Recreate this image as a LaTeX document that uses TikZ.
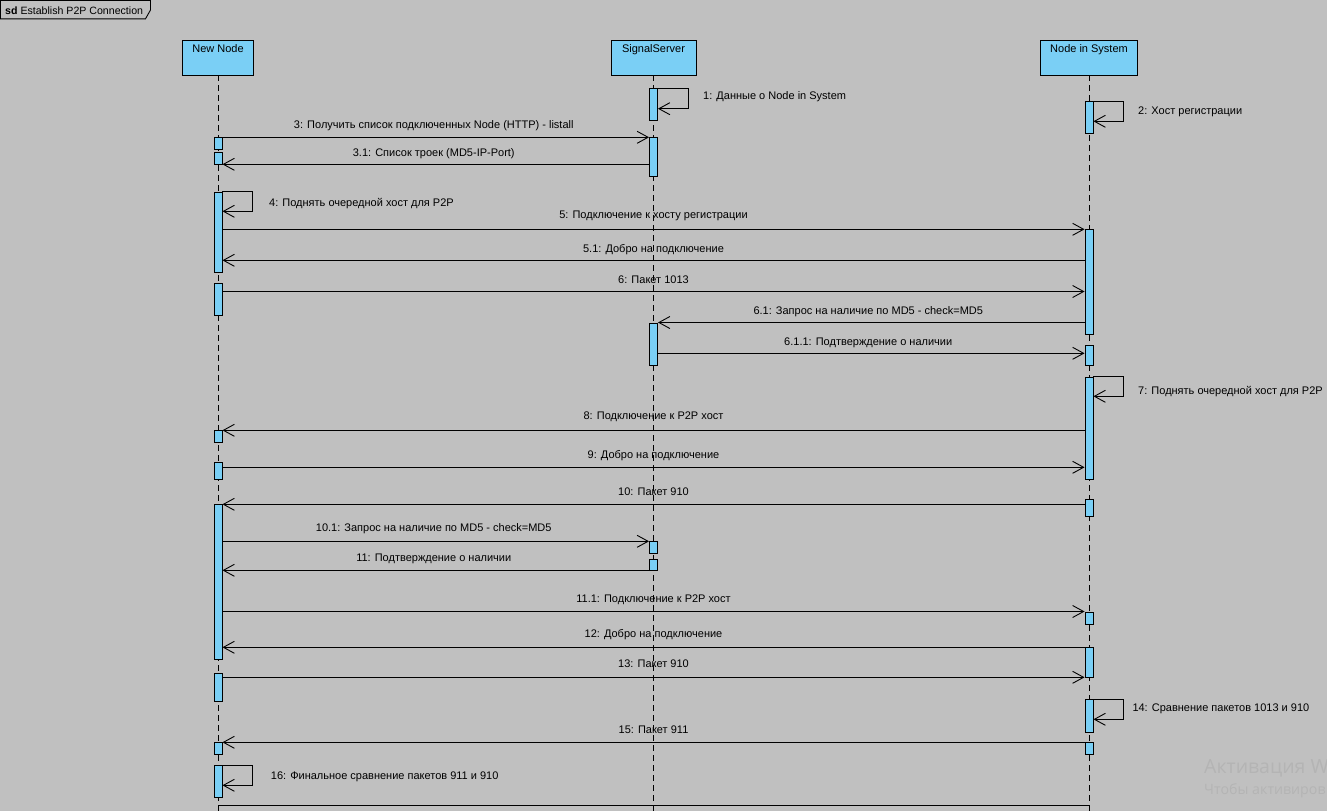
\documentclass[tikz,border=0pt]{standalone}
\usepackage{fontspec}
\setmainfont{Liberation Sans}
\newfontfamily\wmfont{Open Sans}
\usetikzlibrary{arrows.meta}
\definecolor{bgc}{RGB}{192,192,192}
\definecolor{actblue}{RGB}{122,207,245}
\definecolor{wmc}{RGB}{180,180,180}
\newcommand\lblfont{\fontsize{11}{13}\selectfont}
\newcommand\actbx[4]{\node[actbox, minimum height=#4pt] (#1) at (#2,#3) {};}
\tikzset{
  head/.style={draw=black, fill=actblue, line width=0.9pt, minimum height=35pt,
    inner xsep=0pt, inner ysep=0pt, text height=12pt, text depth=23pt, font=\lblfont},
  actbox/.style={draw=black, fill=actblue, line width=0.9pt, minimum width=8pt,
    inner sep=0pt, anchor=north},
  life/.style={draw=black, line width=0.9pt, dash pattern=on 6pt off 4pt},
  msg/.style={draw=black, line width=0.9pt,
    -{Straight Barb[length=11pt,width=12pt,line width=0.9pt]}},
  lbl/.style={font=\lblfont, inner sep=0pt, anchor=base},
  slbl/.style={font=\lblfont, inner sep=0pt, anchor=base west},
}
\begin{document}
\begin{tikzpicture}[x=1pt,y=-1pt]
\fill[bgc] (0,0) rectangle (1327,811);
\useasboundingbox (0,0) rectangle (1327,811);

% frame label
\draw[line width=0.9pt] (0.5,0.5) -- (150.5,0.5) -- (150.5,10) -- (145.5,18.8) -- (0.5,18.8) -- cycle;
\node[slbl, font=\fontsize{10.6}{12}\selectfont] (frametitle) at (5,14) {\textbf{sd} Establish P2P Connection};

% heads
\node[head, minimum width=71pt] (nn) at (218,57.5) {New Node};
\node[head, minimum width=85pt] (ss) at (653.5,57.5) {SignalServer};
\node[head, minimum width=97pt] (ns) at (1089,57.5) {Node in System};

\coordinate (bot) at (0,811);
\draw[life] (nn.south) -- (nn.south |- bot);
\draw[life] (ss.south) -- (ss.south |- bot);
\draw[life] (ns.south) -- (ns.south |- bot);

% activation boxes
\actbx{ss1}{653.5}{88.3}{32}
\actbx{ns2}{1089}{101.3}{32}
\actbx{nn3}{218}{137.3}{12}
\actbx{ss3}{653.5}{137.3}{39}
\actbx{nn31}{218}{152.3}{12}
\actbx{nn4}{218}{191.7}{80.6}
\actbx{ns5}{1089}{229.3}{104.7}
\actbx{nn6}{218}{283.3}{32}
\actbx{ss61}{653.5}{322.5}{42.8}
\actbx{ns611}{1089}{345.3}{20}
\actbx{ns7}{1089}{376.7}{102.6}
\actbx{nn8}{218}{430.2}{12.2}
\actbx{nn9}{218}{462.3}{17}
\actbx{ns10}{1089}{499.3}{16.7}
\actbx{nn10}{218}{504.3}{155}
\actbx{ss101}{653.5}{541.3}{12}
\actbx{ss11}{653.5}{559.3}{11}
\actbx{ns111}{1089}{611.5}{12}
\actbx{ns12}{1089}{647.3}{30}
\actbx{nn13}{218}{673.3}{28}
\actbx{ns14}{1089}{699.3}{32.4}
\actbx{ns15}{1089}{742.3}{12}
\actbx{nn15}{218}{742.3}{12}
\actbx{nn16}{218}{765.3}{32}

% y levels of messages
\coordinate (y3) at (0,137.3);
\coordinate (y31) at (0,164.3);
\coordinate (y5) at (0,229.3);
\coordinate (y51) at (0,260.3);
\coordinate (y6) at (0,291.5);
\coordinate (y61) at (0,322.5);
\coordinate (y611) at (0,353.3);
\coordinate (y8) at (0,430.3);
\coordinate (y9) at (0,467.3);
\coordinate (y10) at (0,504.3);
\coordinate (y101) at (0,541.3);
\coordinate (y11) at (0,570.3);
\coordinate (y111) at (0,611.5);
\coordinate (y12) at (0,647.3);
\coordinate (y13) at (0,677.3);
\coordinate (y15) at (0,742.3);
\coordinate (yend) at (0,805.3);

% self messages
\draw[msg] (ss1.north east) -- ++(30,0) -- ++(0,20.4) -- ++(-30,0);
\node[slbl] (l1) at (703,99.3) {1: Данные о Node in System};
\draw[msg] (ns2.north east) -- ++(30,0) -- ++(0,20) -- ++(-30,0);
\node[slbl] (l2) at (1138,114) {2: Хост регистрации};
\draw[msg] (nn4.north east) -- ++(30,0) -- ++(0,19.6) -- ++(-30,0);
\node[slbl] (l4) at (269,206.7) {4: Поднять очередной хост для P2P};
\draw[msg] (ns7.north east) -- ++(30,0) -- ++(0,19.6) -- ++(-30,0);
\node[slbl] (l7) at (1138,394.3) {7: Поднять очередной хост для P2P};
\draw[msg] (ns14.north east) -- ++(30,0) -- ++(0,20) -- ++(-30,0);
\node[slbl] (l14) at (1132.3,711.7) {14: Сравнение пакетов 1013 и 910};
\draw[msg] (nn16.north east) -- ++(30,0) -- ++(0,20) -- ++(-30,0);
\node[slbl] (l16) at (270.7,779.3) {16: Финальное сравнение пакетов 911 и 910};

% messages
\draw[msg] (nn3.east |- y3) -- (ss3.west |- y3)
  node[lbl, midway, yshift=8.5pt, xshift=-2pt] {3: Получить список подключенных Node (HTTP) - listall};
\draw[msg] (ss3.west |- y31) -- (nn31.east |- y31)
  node[lbl, midway, yshift=8pt, xshift=-2pt] {3.1: Список троек (MD5-IP-Port)};
\draw[msg] (nn4.east |- y5) -- (ns5.west |- y5)
  node[lbl, midway, yshift=11pt] {5: Подключение к хосту регистрации};
\draw[msg] (ns5.west |- y51) -- (nn4.east |- y51)
  node[lbl, midway, yshift=8pt] {5.1: Добро на подключение};
\draw[msg] (nn6.east |- y6) -- (ns5.west |- y6)
  node[lbl, midway, yshift=8.5pt] {6: Пакет 1013};
\draw[msg] (ns5.west |- y61) -- (ss61.east |- y61)
  node[lbl, midway, yshift=8pt, xshift=-3pt] {6.1: Запрос на наличие по MD5 - check=MD5};
\draw[msg] (ss61.east |- y611) -- (ns611.west |- y611)
  node[lbl, midway, yshift=8pt, xshift=-3pt] {6.1.1: Подтверждение о наличии};
\draw[msg] (ns7.west |- y8) -- (nn8.east |- y8)
  node[lbl, midway, yshift=11pt] {8: Подключение к P2P хост};
\draw[msg] (nn9.east |- y9) -- (ns7.west |- y9)
  node[lbl, midway, yshift=8.5pt] {9: Добро на подключение};
\draw[msg] (ns10.west |- y10) -- (nn10.east |- y10)
  node[lbl, midway, yshift=8.5pt] {10: Пакет 910};
\draw[msg] (nn10.east |- y101) -- (ss101.west |- y101)
  node[lbl, midway, yshift=10pt, xshift=-2pt] {10.1: Запрос на наличие по MD5 - check=MD5};
\draw[msg] (ss11.west |- y11) -- (nn10.east |- y11)
  node[lbl, midway, yshift=9pt, xshift=-2pt] {11: Подтверждение о наличии};
\draw[msg] (nn10.east |- y111) -- (ns111.west |- y111)
  node[lbl, midway, yshift=9.5pt] {11.1: Подключение к P2P хост};
\draw[msg] (ns12.west |- y12) -- (nn10.east |- y12)
  node[lbl, midway, yshift=9.5pt] {12: Добро на подключение};
\draw[msg] (nn13.east |- y13) -- (ns12.west |- y13)
  node[lbl, midway, yshift=10pt] {13: Пакет 910};
\draw[msg] (ns15.west |- y15) -- (nn15.east |- y15)
  node[lbl, midway, yshift=8.5pt] {15: Пакет 911};
\draw[line width=0.9pt] (nn.south |- yend) -- (ns.south |- yend);

% watermark
\node[anchor=base west, inner sep=0pt, text=wmc, font=\wmfont\fontsize{19.5}{22}\selectfont] (wm1) at (1204,773.3) {Активация W};
\node[anchor=base west, inner sep=0pt, text=wmc, font=\wmfont\fontsize{14.2}{16}\selectfont] (wm2) at (1204,794) {Чтобы активиров};
\end{tikzpicture}
\end{document}
